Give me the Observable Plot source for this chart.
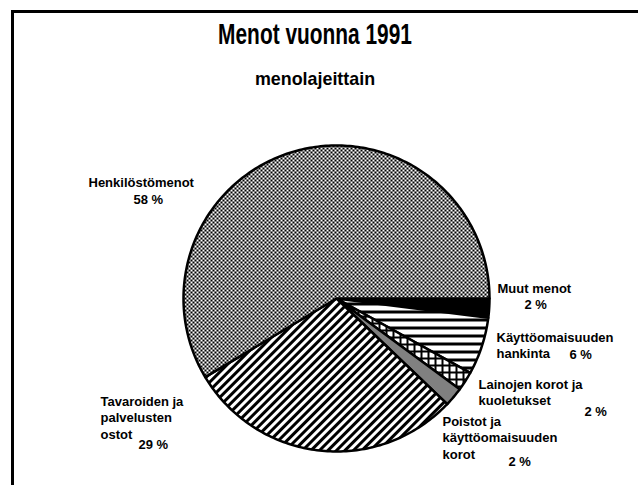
<!DOCTYPE html>
<html>
<head>
<meta charset="utf-8">
<script src="https://cdn.jsdelivr.net/npm/d3@7"></script>
<script src="https://cdn.jsdelivr.net/npm/@observablehq/plot@0.6"></script>
<style>
  html, body { margin: 0; padding: 0; background: #fff; }
  body { width: 638px; height: 485px; overflow: hidden; position: relative; font-family: "Liberation Sans", Arial, Helvetica, sans-serif; }
  #frame { position: absolute; left: 11px; top: 10px; width: 700px; height: 600px; border-left: 3px solid #000; border-top: 3px solid #000; }
  #title { position: absolute; left: 0; top: 20px; width: 630px; text-align: center; font-size: 29px; line-height: 29px; font-weight: bold; transform: scaleX(0.72); color: #000; }
  #subtitle { position: absolute; left: 0; top: 69px; width: 630px; text-align: center; font-size: 19px; line-height: 19px; font-weight: bold; transform: scaleX(0.94); color: #000; }
  #chart { position: absolute; left: 0; top: 105px; }
</style>
</head>
<body>
<div id="frame"></div>
<div id="title">Menot vuonna 1991</div>
<div id="subtitle">menolajeittain</div>
<div id="chart"></div>
<script>
// ---- data ----
const categories = [
  "Muut menot",
  "Käyttöomaisuuden\nhankinta",
  "Lainojen korot ja\nkuoletukset",
  "Poistot ja\nkäyttöomaisuuden\nkorot",
  "Tavaroiden ja\npalvelusten\nostot",
  "Henkilöstömenot"
];
const shares = [2, 6, 2, 2, 29, 58];
const percentLabels = ["2 %", "6 %", "2 %", "2 %", "29 %", "58 %"];

// ---- styles (fill patterns, one per category) ----
const slicePatterns = ["#000", "url(#p-hlines)", "url(#p-grid)", "url(#p-dots)", "url(#p-diag)", "url(#p-stipple)"];

// ---- layout (page pixels) ----
const cx = 336, cy = 298, r = 153, svgTop = 105;
const nameAnchor = [[497, 288], [496, 337], [478, 384], [442, 421], [100, 401], [88, 182]];
const pctAnchor  = [[524, 304], [569, 354], [584, 411], [508, 461], [138, 444], [133, 199]];
const lineStep = 16.5;

const toUnit = ([px, py]) => [(px - cx) / r, (py - cy) / r];

// ---- pie geometry (clockwise from 3 o'clock) ----
const total = d3.sum(shares);
let acc = 0;
const slices = shares.map((v, i) => {
  const a0 = acc / total * 2 * Math.PI;
  acc += v;
  const a1 = acc / total * 2 * Math.PI;
  const n = Math.max(4, Math.ceil((a1 - a0) / (Math.PI / 180)));
  const pts = [{x: 0, y: 0}];
  for (let k = 0; k <= n; k++) {
    const a = a0 + (a1 - a0) * k / n;
    pts.push({x: Math.cos(a), y: Math.sin(a)});
  }
  pts.push({x: 0, y: 0});
  return {i, pts};
});

// ---- label rows ----
const labelRows = [];
categories.forEach((name, i) => {
  const [ux, uy] = toUnit(nameAnchor[i]);
  name.split("\n").forEach((line, j) => {
    labelRows.push({x: ux, y: uy + j * lineStep / r, text: line});
  });
  const [px, py] = toUnit(pctAnchor[i]);
  labelRows.push({x: px, y: py, text: percentLabels[i]});
});

const svg = Plot.plot({
  width: 638,
  height: 380,
  margin: 0,
  style: {background: "transparent", fontFamily: "'Liberation Sans', Arial, Helvetica, sans-serif", color: "#000"},
  x: {domain: [-1, 1], range: [cx - r, cx + r], axis: null},
  y: {domain: [-1, 1], range: [cy - r - svgTop, cy + r - svgTop], axis: null},
  marks: [
    ...slices.map(s => Plot.line(s.pts, {
      x: "x", y: "y",
      fill: slicePatterns[s.i],
      stroke: "#000",
      strokeWidth: 2.5,
      strokeLinejoin: "round",
      curve: "linear"
    })),
    Plot.text(labelRows, {
      x: "x", y: "y", text: "text",
      textAnchor: "start",
      fontSize: 13,
      fontWeight: "bold",
      fill: "#000"
    })
  ]
});

const defs = document.createElementNS("http://www.w3.org/2000/svg", "defs");
defs.innerHTML = `
<pattern id="p-stipple" width="4" height="4" patternUnits="userSpaceOnUse">
  <rect width="4" height="4" fill="#fff"/>
  <rect width="2" height="2" fill="#000"/>
  <rect x="2" y="2" width="2" height="2" fill="#000"/>
</pattern>
<pattern id="p-diag" width="6" height="6" patternUnits="userSpaceOnUse" patternTransform="rotate(45)">
  <rect width="6" height="6" fill="#fff"/>
  <rect width="3" height="6" fill="#000"/>
</pattern>
<pattern id="p-hlines" width="8" height="8" patternUnits="userSpaceOnUse">
  <rect width="8" height="8" fill="#fff"/>
  <rect y="5" width="8" height="3" fill="#000"/>
</pattern>
<pattern id="p-grid" width="7" height="7" patternUnits="userSpaceOnUse">
  <rect width="7" height="7" fill="#000"/>
  <rect x="2" y="2" width="5" height="5" fill="#fff"/>
</pattern>
<pattern id="p-dots" width="2" height="2" patternUnits="userSpaceOnUse">
  <rect width="2" height="2" fill="#fff"/>
  <rect width="1" height="1" fill="#000"/>
  <rect x="1" y="1" width="1" height="1" fill="#000"/>
</pattern>`;
svg.insertBefore(defs, svg.firstChild);

document.getElementById("chart").appendChild(svg);
</script>
</body>
</html>
